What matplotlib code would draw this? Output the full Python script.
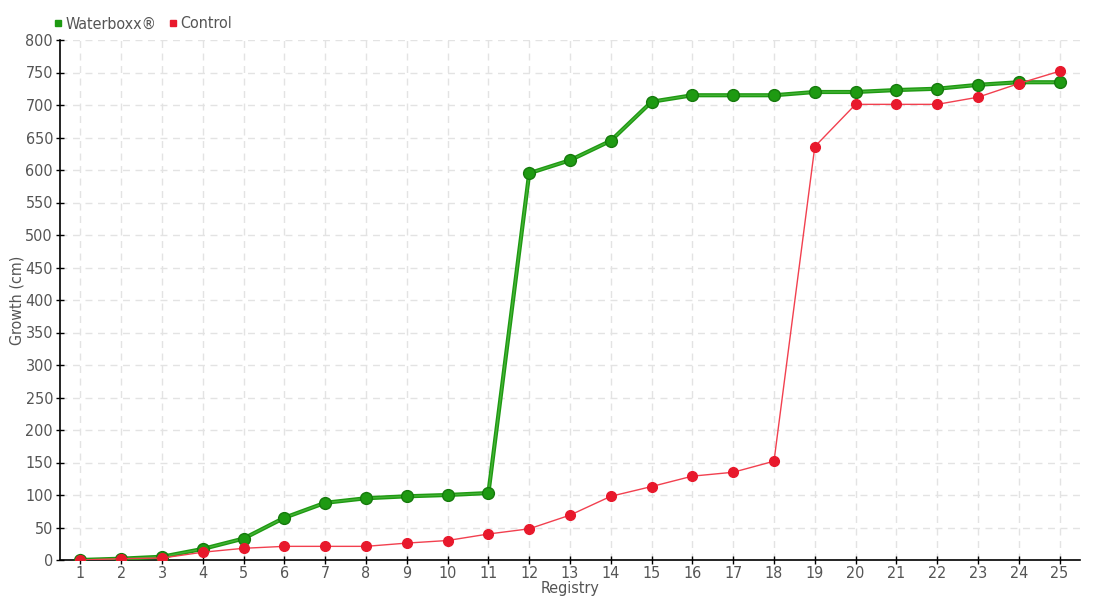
import numpy as np
import matplotlib
matplotlib.use("Agg")
from matplotlib import pyplot as plt
from matplotlib.lines import Line2D

registry = list(range(1, 26))
waterboxx = [0, 2, 5, 17, 33, 65, 88, 95, 98, 100, 103, 595, 615, 645, 705,
             715, 715, 715, 720, 720, 723, 725, 731, 735, 735]
control = [0, 2, 3, 12, 18, 21, 21, 21, 26, 30, 40, 48, 69, 98, 113,
           129, 135, 152, 636, 701, 701, 701, 712, 733, 752]
y_ticks = list(range(0, 801, 50))

plt.rcParams["font.family"] = ["DejaVu Sans"]
plt.rcParams["font.stretch"] = "condensed"
text_color = "#555555"

fig = plt.figure(figsize=(11, 6), dpi=100)
ax = fig.add_axes([60 / 1100, 40 / 600, 1020 / 1100, 520 / 600])

green = "#1e9a12"
red = "#e8192c"

ax.plot(registry, waterboxx, color=green, lw=3, zorder=3)
ax.plot(registry, waterboxx, color="#4fb83f", lw=1, alpha=0.8, zorder=3.5)
ax.plot(registry, waterboxx, ls="none", marker="o", ms=8.5, mfc=green,
        mec="#157a0c", mew=1, zorder=4)
ax.plot(registry, control, color="#f2404f", lw=1, zorder=5)
ax.plot(registry, control, ls="none", marker="o", ms=7, mfc=red,
        mec=red, zorder=6)

ax.set_xlim(0.5, 25.5)
ax.set_ylim(0, 800)
ax.set_xticks(registry)
ax.set_yticks(y_ticks)
ax.grid(True, ls=(0, (5, 4)), color="#e3e3e3", lw=1)
ax.set_axisbelow(True)

for side in ["top", "right"]:
    ax.spines[side].set_visible(False)
for side in ["left", "bottom"]:
    ax.spines[side].set_color("black")
    ax.spines[side].set_linewidth(1.2)

ax.tick_params(axis="both", direction="inout", length=6, width=1,
               colors="black", labelcolor=text_color, labelsize=11.5)
ax.tick_params(axis="x", pad=1)
ax.tick_params(axis="y", pad=2)

ax.set_xlabel("Registry", color=text_color, fontsize=11.5, labelpad=0)
ax.set_ylabel("Growth (cm)", color=text_color, fontsize=11.5, labelpad=1)

handles = [
    Line2D([], [], ls="none", marker="s", ms=5, color=green),
    Line2D([], [], ls="none", marker="s", ms=5, color=red),
]
leg = fig.legend(handles, ["Waterboxx®", "Control"], loc="upper left",
                 bbox_to_anchor=(45 / 1100, 1 - 10 / 600), ncol=2, frameon=False,
                 fontsize=11.5, handletextpad=0.1, columnspacing=0.6,
                 handlelength=0.8, borderaxespad=0)
for t in leg.get_texts():
    t.set_color(text_color)

fig.savefig("out.png", dpi=100)
